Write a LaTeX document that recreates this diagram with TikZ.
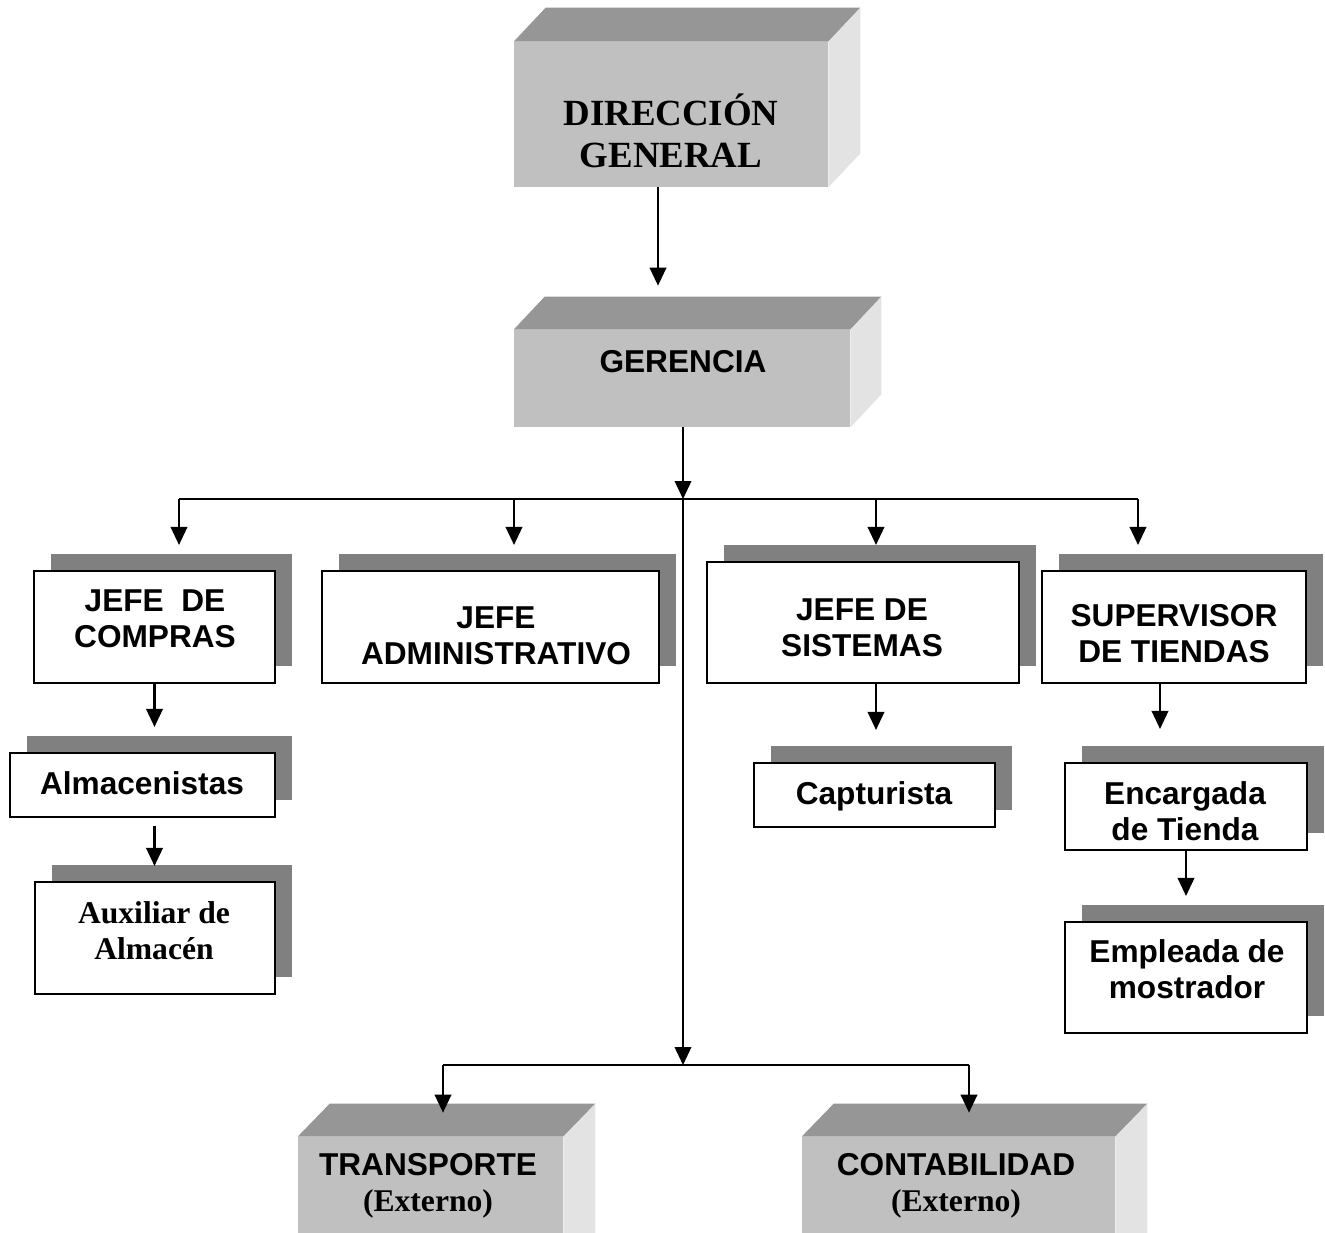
\documentclass[tikz,border=0pt]{standalone}
\usepackage{fontspec}
\setmainfont{Liberation Serif}
\setsansfont{Liberation Sans}
\usetikzlibrary{arrows.meta,fit,calc,shadows}

\definecolor{frontgray}{HTML}{C0C0C0}
\definecolor{topgray}{HTML}{969696}
\definecolor{sidegray}{HTML}{E3E3E3}
\definecolor{shadowgray}{HTML}{808080}

% top and right faces of a raised block: #1 front node, #2/#3 depth
\newcommand\blockfaces[3]{%
  \fill[topgray] (#1.north west) -- ++(#2,#3) -- ($(#1.north east)+(#2,#3)$) -- (#1.north east) -- cycle;
  \fill[sidegray] (#1.north east) -- ++(#2,#3) -- ($(#1.south east)+(#2,#3)$) -- (#1.south east) -- cycle;
}

\begin{document}
\begin{tikzpicture}[x=0.02cm,y=-0.02cm,
  conn/.style={line width=1.2pt},
  arr/.style={conn,-{Triangle[length=0.36cm,width=0.33cm]}},
  block/.style={fill=frontgray,draw=none,inner sep=0pt},
  flatbox/.style={draw=black,line width=1.2pt,fill=white,inner sep=0pt,
    drop shadow={shadow xshift=0.34cm,shadow yshift=0.34cm,opacity=1,fill=shadowgray}},
  stxt/.style={font=\sffamily\bfseries\fontsize{18}{20.5}\selectfont,align=center,inner sep=0pt},
  rtxt/.style={font=\rmfamily\bfseries\fontsize{18}{20.5}\selectfont,align=center,inner sep=0pt},
  bigtxt/.style={font=\rmfamily\bfseries\fontsize{21}{24}\selectfont,align=center,inner sep=0pt}
]
\useasboundingbox (0,0) rectangle (1325,1232);
\clip (0,0) rectangle (1325,1232);

% raised blocks
\node[block,fit={(514,42)(828,187)}] (dg) {};
\blockfaces{dg}{32}{-34}
\node[bigtxt] (dg-t) at (671,131) {DIRECCIÓN\\GENERAL};

\node[block,fit={(514,330)(850,427)}] (ger) {};
\blockfaces{ger}{31}{-33}
\node[stxt] (ger-t) at (683,362) {GERENCIA};

\node[block,fit={(298,1137)(563,1320)}] (tra) {};
\blockfaces{tra}{32}{-33}
\node[stxt] (tra-t) at (428,1186) {TRANSPORTE\\{\rmfamily(Externo)}};

\node[block,fit={(802,1137)(1115,1320)}] (con) {};
\blockfaces{con}{32}{-33}
\node[stxt] (con-t) at (956,1186) {CONTABILIDAD\\{\rmfamily(Externo)}};

% shadowed boxes
\node[flatbox,fit={(34,571)(275,683)}] (cmp) {};
\node[stxt] (cmp-t) at (155,619) {JEFE\ \ DE\\COMPRAS};

\node[flatbox,fit={(322,571)(659,683)}] (adm) {};
\node[stxt] (adm-t) at (496,636) {JEFE\\ADMINISTRATIVO};

\node[flatbox,fit={(707,562)(1019,683)}] (sis) {};
\node[stxt] (sis-t) at (862,628) {JEFE DE\\SISTEMAS};

\node[flatbox,fit={(1042,571)(1306,683)}] (sup) {};
\node[stxt] (sup-t) at (1174,634) {SUPERVISOR\\DE TIENDAS};

\node[flatbox,fit={(10,753)(275,817)}] (alm) {};
\node[stxt] (alm-t) at (142,783) {Almacenistas};

\node[flatbox,fit={(35,882)(275,994)}] (aux) {};
\node[rtxt] (aux-t) at (154,931) {Auxiliar de\\Almacén};

\node[flatbox,fit={(754,763)(995,827)}] (cap) {};
\node[stxt] (cap-t) at (874,796) {Capturista};

\node[flatbox,fit={(1065,763)(1307,850)}] (enc) {};
\node[stxt] (enc-t) at (1185,811) {Encargada\\de Tienda};

\node[flatbox,fit={(1065,922)(1307,1033)}] (emp) {};
\node[stxt] (emp-t) at (1187,969) {Empleada de\\mostrador};

% junctions and branch columns
\coordinate (j1) at (683,499);
\coordinate (j2) at (683,1065);
\coordinate (b-cmp) at (179,499);
\coordinate (b-adm) at (514,499);
\coordinate (b-sis) at (876,499);
\coordinate (b-sup) at (1138,499);
\coordinate (b-tra) at (443,1065);
\coordinate (b-con) at (969,1065);
\coordinate (x-dg) at (658,0);
\coordinate (x-sis) at (876,0);
\coordinate (x-sup) at (1160,0);

% connectors
\draw[arr,shorten >=0.88cm] (x-dg |- dg.south) -- (x-dg |- ger.north);
\draw[arr] (j1 |- ger.south) -- (j1);
\draw[conn] (b-cmp) -- (b-sup);
\draw[arr,shorten >=0.50cm] (b-cmp) -- (b-cmp |- cmp.north);
\draw[arr,shorten >=0.50cm] (b-adm) -- (b-adm |- adm.north);
\draw[arr,shorten >=0.32cm] (b-sis) -- (b-sis |- sis.north);
\draw[arr,shorten >=0.50cm] (b-sup) -- (b-sup |- sup.north);
\draw[arr] (j1) -- (j2);
\draw[conn] (b-tra) -- (b-con);
\draw[arr,shorten >=0.48cm] (b-tra) -- (b-tra |- tra.north);
\draw[arr,shorten >=0.48cm] (b-con) -- (b-con |- con.north);

\draw[arr,shorten >=0.50cm] (cmp.south) -- (cmp.south |- alm.north);
\draw[arr,shorten <=0.16cm,shorten >=0.30cm] (cmp.south |- alm.south) -- (cmp.south |- aux.north);
\draw[arr,shorten >=0.64cm] (x-sis |- sis.south) -- (x-sis |- cap.north);
\draw[arr,shorten >=0.66cm] (x-sup |- sup.south) -- (x-sup |- enc.north);
\draw[arr,shorten >=0.50cm] (enc.south) -- (enc.south |- emp.north);
\end{tikzpicture}
\end{document}
